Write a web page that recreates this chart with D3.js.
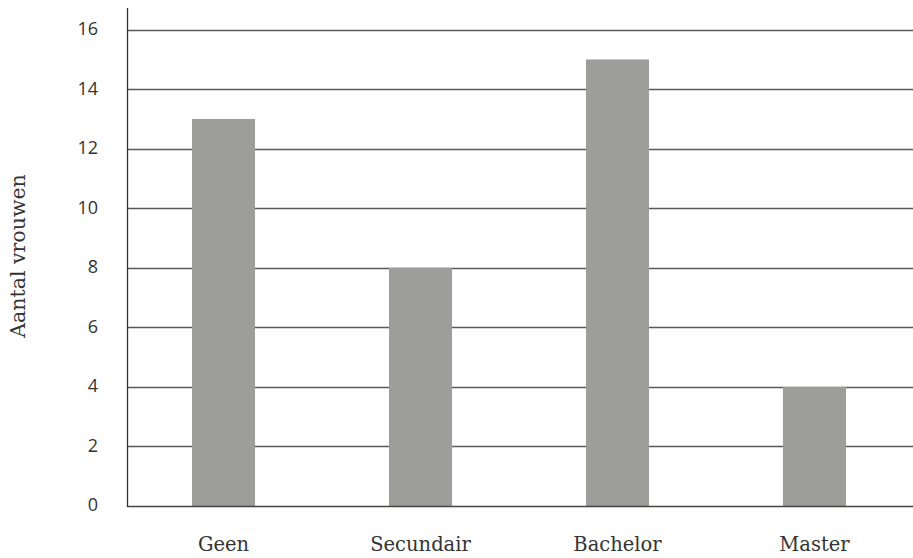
<!DOCTYPE html>
<html><head><meta charset="utf-8">
<script src="https://cdn.jsdelivr.net/npm/d3@7"></script>
<style>body{margin:0;background:#fff}</style>
</head><body>
<svg id="c" width="913" height="558"></svg>
<script>
const categories = ["Geen", "Secundair", "Bachelor", "Master"];
const values = [13, 8, 15, 4];
const yTicks = [0, 2, 4, 6, 8, 10, 12, 14, 16];
const yLabel = "Aantal vrouwen";

(function () {
const svg = d3.select("#c");
const pLeft = 127, pRight = 911, pTop = 8, pBottom = 506;
const x = d3.scaleBand().domain(categories).range([pLeft, pRight]).paddingInner(0.68).paddingOuter(0.33);
const y = d3.scaleLinear().domain([0, 16]).range([pBottom, 29.7]);

// gridlines
svg.append("g").selectAll("line").data(yTicks.filter(d => d > 0)).join("line")
  .attr("x1", pLeft).attr("x2", pRight + 2)
  .attr("y1", d => Math.round(y(d)) + 0.5).attr("y2", d => Math.round(y(d)) + 0.5)
  .attr("stroke", "#5a5a5a").attr("stroke-width", 1.3);

// bars
svg.append("g").selectAll("rect").data(values).join("rect")
  .attr("x", (d, i) => x(categories[i]))
  .attr("width", x.bandwidth())
  .attr("y", d => y(d))
  .attr("height", d => y(0) - y(d))
  .attr("fill", "#9d9d9c");

// baseline and y axis line
svg.append("line").attr("x1", pLeft).attr("x2", pRight + 2).attr("y1", pBottom + 0.5).attr("y2", pBottom + 0.5)
  .attr("stroke", "#444").attr("stroke-width", 1.3);
svg.append("line").attr("x1", pLeft + 0.5).attr("x2", pLeft + 0.5).attr("y1", pTop).attr("y2", pBottom + 1)
  .attr("stroke", "#333").attr("stroke-width", 1.3);

// y tick labels
svg.append("g").selectAll("text").data(yTicks).join("text")
  .attr("x", 98).attr("y", d => y(d) - 1).attr("dy", "0.35em")
  .attr("text-anchor", "end")
  .attr("font-family", "'Open Sans', sans-serif").attr("font-size", 18)
  .attr("fill", "#333").text(d => d);

// x labels
svg.append("g").selectAll("text").data(categories).join("text")
  .attr("x", d => x(d) + x.bandwidth() / 2).attr("y", 551)
  .attr("text-anchor", "middle")
  .attr("font-family", "'DejaVu Serif', serif").attr("font-size", 19.5)
  .attr("fill", "#333").text(d => d);

// y label
svg.append("text")
  .attr("transform", "translate(25,256) rotate(-90)")
  .attr("text-anchor", "middle")
  .attr("font-family", "'DejaVu Serif', serif").attr("font-size", 20.5)
  .attr("fill", "#333").text(yLabel);
})();
</script>
</body></html>
